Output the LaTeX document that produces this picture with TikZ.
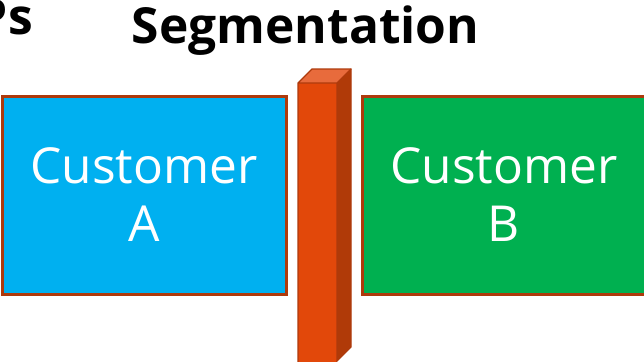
\documentclass[tikz,border=0pt]{standalone}
\usepackage{fontspec}
\setmainfont{Open Sans}
\definecolor{cyanbox}{HTML}{00B0F0}
\definecolor{greenbox}{HTML}{00B050}
\definecolor{rust}{HTML}{AE3A0C}
\definecolor{wallfront}{HTML}{E2480A}
\definecolor{walltop}{HTML}{E86B3C}
\definecolor{wallside}{HTML}{B03A08}
\tikzset{
  custbox/.style={draw=rust, line width=3pt, minimum width=284pt, minimum height=198pt, inner sep=0pt,
    text=white, align=center, font=\fontsize{49.6}{58}\selectfont},
  titletext/.style={font=\fontsize{49.7}{56}\selectfont\bfseries, anchor=base, inner sep=0pt},
  wallface/.style={draw=rust, line width=1.2pt, line join=miter}
}
\begin{document}
\begin{tikzpicture}[x=1pt,y=-1pt]
\useasboundingbox (0,0) rectangle (644,361);
\clip (0,0) rectangle (644,361);
\node[titletext, anchor=base east] (ps) at (33,35) {Ps};
\node[titletext] (title) at (305.5,44) {Segmentation};
\node[custbox, fill=cyanbox] (custA) at (144,195) {Customer\\A};
\node[custbox, fill=greenbox] (custB) at (504,195) {Customer\\B};
% wall
\fill[wallfront] (298,83) rectangle (337,365);
\fill[walltop] (298,83) -- (312,69) -- (351,69) -- (337,83) -- cycle;
\fill[wallside] (337,83) -- (351,69) -- (351,347) -- (337,361) -- cycle;
\draw[wallface] (298,365) -- (298,83) -- (312,69) -- (351,69) -- (351,347) -- (337,361) -- (337,83) -- (298,83);
\draw[wallface] (337,83) -- (351,69);
\end{tikzpicture}
\end{document}
